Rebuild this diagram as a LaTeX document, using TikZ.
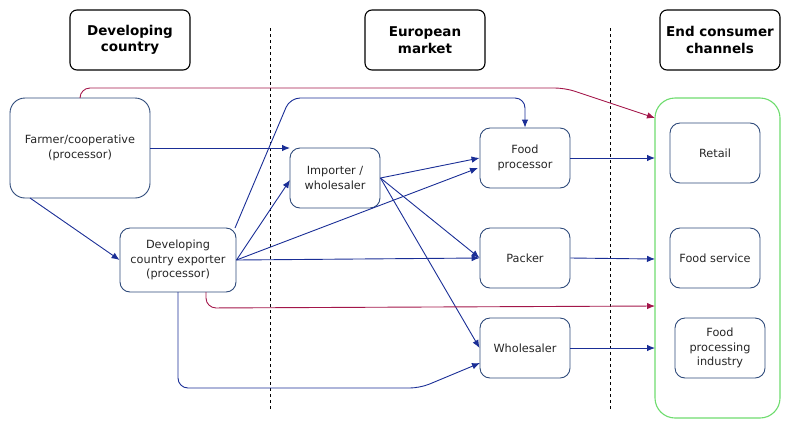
\documentclass[tikz,border=0pt]{standalone}
\usepackage{fontspec}
\setmainfont{DejaVu Sans}
\usetikzlibrary{arrows.meta}
\definecolor{boxc}{HTML}{2E4A7A}
\definecolor{arrc}{HTML}{1A2E96}
\definecolor{redc}{HTML}{A3164A}
\definecolor{grn}{HTML}{6EDC6E}
\begin{document}
\begin{tikzpicture}[x=1pt,y=-1pt,
  hdr/.style={draw=black,line width=1.1pt,rounded corners=7pt,minimum width=120pt,minimum height=60pt,align=center,font=\fontsize{13.5}{16.5}\selectfont\bfseries},
  ent/.style={draw=boxc,line width=0.9pt,rounded corners=10pt,align=center,font=\fontsize{11.3}{15}\selectfont,text=black!85},
  arr/.style={draw=arrc,line width=0.9pt,-{Latex[length=8pt,width=6.5pt]},rounded corners=10pt},
  rarr/.style={draw=redc,line width=0.9pt,-{Latex[length=8pt,width=6.5pt]},rounded corners=10pt}]
\useasboundingbox (0,0) rectangle (791,429);
% headers
\node[hdr] (h1) at (130,40) {Developing\\country};
\node[hdr] (h2) at (425,40) {European\\market};
\node[hdr] (h3) at (720,40) {End consumer\\channels};
% dashed separators
\coordinate (d1t) at (270,28); \coordinate (d1b) at (270,410);
\coordinate (d2t) at (610,28); \coordinate (d2b) at (610,410);
\draw[dashed,line width=0.8pt] (d1t) -- (d1b);
\draw[dashed,line width=0.8pt] (d2t) -- (d2b);
% nodes
\node[ent,minimum width=140pt,minimum height=100pt,rounded corners=15pt] (farm) at (80,148) {Farmer/cooperative\\(processor)};
\node[ent,minimum width=116pt,minimum height=64pt,font=\fontsize{11.3}{14.5}\selectfont] (exp) at (178,260) {Developing\\country exporter\\(processor)};
\node[ent,minimum width=90pt,minimum height=60pt] (imp) at (335,178) {Importer /\\wholesaler};
\node[ent,minimum width=90pt,minimum height=60pt] (fp) at (525,158) {Food\\processor};
\node[ent,minimum width=90pt,minimum height=60pt] (pack) at (525,258) {Packer};
\node[ent,minimum width=90pt,minimum height=60pt] (whole) at (525,348) {Wholesaler};
\node[draw=grn,line width=1.1pt,rounded corners=20pt,minimum width=125pt,minimum height=320pt] (cons) at (717.5,258) {};
\node[ent,minimum width=90pt,minimum height=60pt] (ret) at (715,153) {Retail};
\node[ent,minimum width=90pt,minimum height=60pt] (fs) at (715,258) {Food service};
\node[ent,minimum width=90pt,minimum height=60pt,font=\fontsize{11.3}{14.5}\selectfont] (fpi) at (720,348) {Food\\processing\\industry};
% connectors
\coordinate (c1) at (80,88); \coordinate (c2) at (565,88);
\draw[rarr] (80,98) -- (c1) -- (c2) -- (655,118);
\draw[arr] (235,228) -- (290,98) -- (525,98) -- (fp.north);
\draw[arr] (150,148) -- (290,148);
\draw[arr] (30,198) -- (exp.west);
\draw[arr] (exp.east) -- (290,180);
\draw[arr] (exp.east) -- (478,168);
\draw[arr] (exp.east) -- (pack.west);
\draw[arr] (imp.east) -- (fp.west);
\draw[arr] (imp.east) -- (pack.west);
\draw[arr] (imp.east) -- (whole.west);
\draw[arr] (178,292) -- (178,388) -- (420,388) -- (480,363);
\draw[rarr] (206,292) -- (206,308) -- (655,306);
\draw[arr] (fp.east) -- (655,158);
\draw[arr] (pack.east) -- (655,259);
\draw[arr] (whole.east) -- (655,348);
\end{tikzpicture}
\end{document}
